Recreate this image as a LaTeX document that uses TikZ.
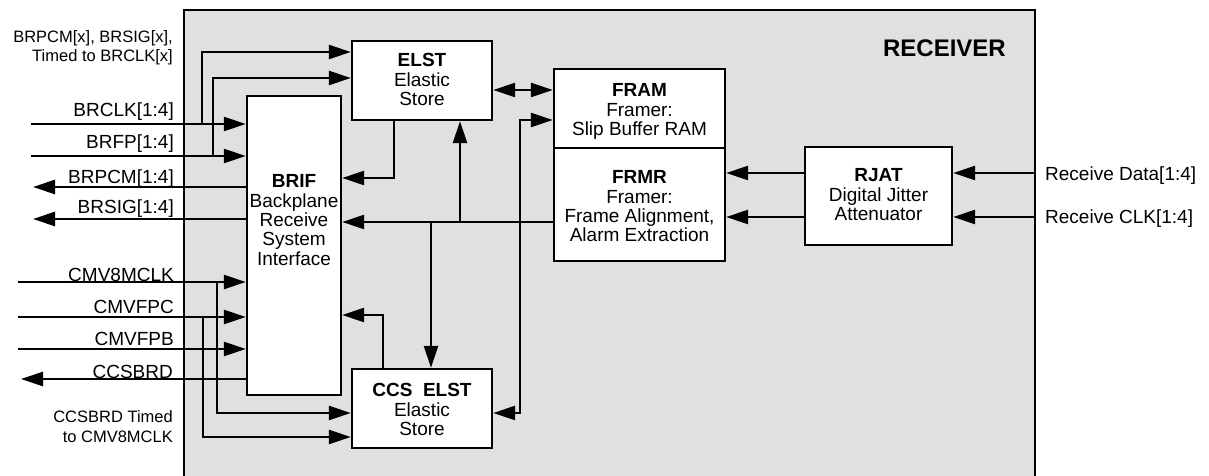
\documentclass[tikz,border=0pt]{standalone}
\usepackage{fontspec}
\setmainfont{Liberation Sans}
\usetikzlibrary{arrows.meta}
\definecolor{recvgray}{HTML}{E0E0E0}
\begin{document}
\begin{tikzpicture}[x=1pt,y=-1pt,
  blk/.style={draw=black, line width=2.4pt, fill=white, inner sep=0pt},
  big/.style={font=\fontsize{19}{19.4}\selectfont, inner sep=0pt, align=center, anchor=north},
  lab/.style={font=\fontsize{19}{19}\selectfont, inner sep=0pt},
  small/.style={font=\fontsize{16.5}{19}\selectfont, inner sep=0pt},
  wire/.style={line width=2.7pt, line join=miter},
  arr/.style={wire, -{Triangle[length=22pt,width=14pt]}},
  darr/.style={wire, {Triangle[length=22pt,width=14pt]}-{Triangle[length=22pt,width=14pt]}},
]
\useasboundingbox (0,0) rectangle (1209,476);
% receiver area
\fill[recvgray] (184,10) rectangle (1035,480);
\draw[line width=1.8pt] (184,480) -- (184,10) -- (1035,10) -- (1035,480);
\node[font=\fontsize{24}{24}\selectfont\bfseries, inner sep=0pt, anchor=base east] (title) at (1006,57) {RECEIVER};

% blocks
\node[blk, minimum width=94pt, minimum height=299pt] (brif) at (294,245.5) {};
\node[blk, minimum width=140pt, minimum height=79pt] (elst) at (422,80.5) {};
\node[blk, minimum width=171pt, minimum height=79pt] (fram) at (639.5,108.5) {};
\node[blk, minimum width=171pt, minimum height=113pt] (frmr) at (639.5,204.5) {};
\node[blk, minimum width=147pt, minimum height=98pt] (rjat) at (878.5,196) {};
\node[blk, minimum width=140pt, minimum height=79pt] (ccs) at (422,408.5) {};

% block texts
\node[big] (brif-t) at (294,174.4) {\textbf{BRIF}\\Backplane\\Receive\\System\\Interface};
\node[big] (elst-t) at (422,53.4) {\textbf{ELST}\\Elastic\\Store};
\node[big] (fram-t) at (639.5,83.4) {\textbf{FRAM}\\Framer:\\Slip Buffer RAM};
\node[big] (frmr-t) at (639.5,170.4) {\textbf{FRMR}\\Framer:\\Frame Alignment,\\Alarm Extraction};
\node[big] (rjat-t) at (878.5,168.4) {\textbf{RJAT}\\Digital Jitter\\Attenuator};
\node[big] (ccs-t) at (422,383.4) {\textbf{CCS\ \ ELST}\\Elastic\\Store};

% left labels
\node[small, anchor=base east] (s1) at (173,43) {BRPCM[x], BRSIG[x],};
\node[small, anchor=base east] (s2) at (173,62) {Timed to BRCLK[x]};
\node[lab, anchor=base east] (l1) at (174,117) {BRCLK[1:4]};
\node[lab, anchor=base east] (l2) at (174,148) {BRFP[1:4]};
\node[lab, anchor=base east] (l3) at (174,183) {BRPCM[1:4]};
\node[lab, anchor=base east] (l4) at (174,213) {BRSIG[1:4]};
\node[lab, anchor=base east] (l5) at (174,281) {CMV8MCLK};
\node[lab, anchor=base east] (l6) at (174,313) {CMVFPC};
\node[lab, anchor=base east] (l7) at (174,345) {CMVFPB};
\node[lab, anchor=base east] (l8) at (173,378) {CCSBRD};
\node[small, anchor=base east] (s3) at (173,422) {CCSBRD Timed};
\node[small, anchor=base east] (s4) at (173,442) {to CMV8MCLK};
% right labels
\node[lab, anchor=base west] (r1) at (1045,180) {Receive Data[1:4]};
\node[lab, anchor=base west] (r2) at (1045,223) {Receive CLK[1:4]};

% free ends and bends
\coordinate (brclk) at (31,124);
\coordinate (brfp) at (31,156);
\coordinate (brpcm) at (33,187);
\coordinate (brsig) at (33,219);
\coordinate (cmv8) at (18,282);
\coordinate (cmvfpc) at (18,317);
\coordinate (cmvfpb) at (18,349);
\coordinate (ccsbrd) at (21,379);
\coordinate (b1) at (202,52);
\coordinate (b2) at (213,78);
\coordinate (e1) at (394,178);
\coordinate (bus) at (0,222);
\coordinate (u1) at (460,222);
\coordinate (d1) at (431,222);
\coordinate (v1) at (520,120);
\coordinate (v2) at (520,413);
\coordinate (h1) at (0,90);
\coordinate (rj1) at (0,173);
\coordinate (rj2) at (0,217);
\coordinate (rd) at (1035,173);
\coordinate (rc) at (1035,217);
\coordinate (c1) at (217,413);
\coordinate (c2) at (203,437);
\coordinate (c3) at (383,315);

% left-side I/O
\draw[arr] (brclk) -- (brclk -| brif.west);
\draw[arr] (brfp) -- (brfp -| brif.west);
\draw[arr] (brpcm -| brif.west) -- (brpcm);
\draw[arr] (brsig -| brif.west) -- (brsig);
\draw[arr] (cmv8) -- (cmv8 -| brif.west);
\draw[arr] (cmvfpc) -- (cmvfpc -| brif.west);
\draw[arr] (cmvfpb) -- (cmvfpb -| brif.west);
\draw[arr] (ccsbrd -| brif.west) -- (ccsbrd);

% branches to ELST
\draw[arr] (brclk -| b1) -- (b1) -- (b1 -| elst.west);
\draw[arr] (brfp -| b2) -- (b2) -- (b2 -| elst.west);
% ELST to BRIF
\draw[arr] (elst.south -| e1) -- (e1) -- (e1 -| brif.east);
% bus from FRMR
\draw[arr] (bus -| frmr.west) -- (bus -| brif.east);
\draw[arr] (u1) -- (u1 |- elst.south);
\draw[arr] (d1) -- (d1 |- ccs.north);
% FRAM <-> CCS ELST
\draw[darr] (v1 -| fram.west) -- (v1) -- (v2) -- (v2 -| ccs.east);
% ELST <-> FRAM
\draw[darr] (h1 -| elst.east) -- (h1 -| fram.west);
% RJAT to FRMR
\draw[arr] (rj1 -| rjat.west) -- (rj1 -| frmr.east);
\draw[arr] (rj2 -| rjat.west) -- (rj2 -| frmr.east);
% receive inputs
\draw[arr] (rd) -- (rd -| rjat.east);
\draw[arr] (rc) -- (rc -| rjat.east);
% branches to CCS ELST
\draw[arr] (cmv8 -| c1) -- (c1) -- (c1 -| ccs.west);
\draw[arr] (cmvfpc -| c2) -- (c2) -- (c2 -| ccs.west);
% CCS ELST to BRIF
\draw[arr] (ccs.north -| c3) -- (c3) -- (c3 -| brif.east);
\end{tikzpicture}
\end{document}
